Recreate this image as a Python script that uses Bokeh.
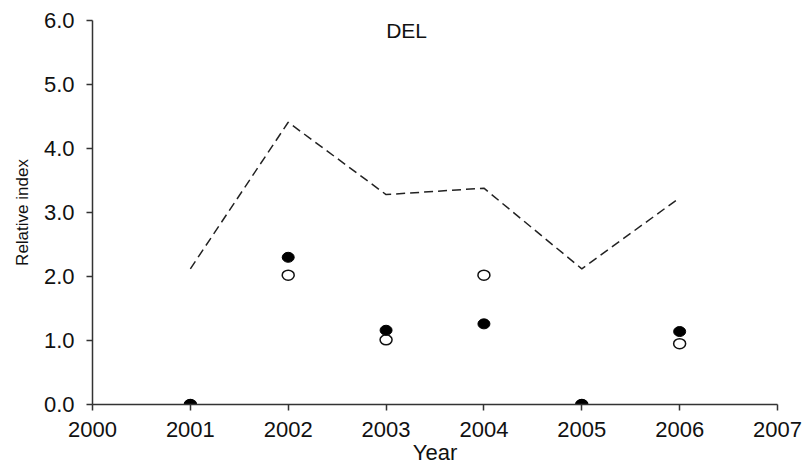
from bokeh.plotting import figure
from bokeh.models import Range1d, FixedTicker, PrintfTickFormatter
from bokeh.core.properties import value
from bokeh.embed import file_html
from bokeh.resources import INLINE

# ---- data ----
years = [2001, 2002, 2003, 2004, 2005, 2006]
dashed_index = [2.12, 4.41, 3.28, 3.38, 2.12, 3.23]
filled_index = [0.0, 2.30, 1.16, 1.26, 0.0, 1.14]
open_index = [0.0, 2.02, 1.01, 2.02, 0.0, 0.95]
x_ticks = [2000, 2001, 2002, 2003, 2004, 2005, 2006, 2007]
y_ticks = [0, 1, 2, 3, 4, 5, 6]
panel_title = "DEL"

FONT = "Liberation Sans"

p = figure(width=807, height=467, output_backend="svg", toolbar_location=None,
           x_range=Range1d(2000, 2007), y_range=Range1d(0, 6),
           min_border_left=92, min_border_right=30, min_border_top=20,
           min_border_bottom=63)
p.outline_line_color = None
p.grid.visible = False
p.background_fill_color = "white"
p.border_fill_color = "white"

for ax in (p.xaxis, p.yaxis):
    ax.axis_line_color = "#333333"
    ax.axis_line_width = 1.5
    ax.major_tick_line_color = "#333333"
    ax.major_tick_line_width = 1.5
    ax.major_tick_out = 6
    ax.major_tick_in = 0
    ax.minor_tick_line_color = None
    ax.major_label_text_font = FONT
    ax.major_label_text_color = "#111111"
    ax.axis_label_text_font = FONT
    ax.axis_label_text_font_style = "normal"
    ax.axis_label_text_color = "#111111"

p.xaxis.ticker = FixedTicker(ticks=x_ticks)
p.xaxis.formatter = PrintfTickFormatter(format="%d")
p.xaxis.major_label_text_font_size = "22px"
p.xaxis.major_label_standoff = 11
p.xaxis.axis_label = "Year"
p.xaxis.axis_label_text_font_size = "22px"
p.xaxis.axis_label_standoff = 0

p.yaxis.ticker = FixedTicker(ticks=y_ticks)
p.yaxis.formatter = PrintfTickFormatter(format="%.1f")
p.yaxis.major_label_text_font_size = "22px"
p.yaxis.major_label_standoff = 12
p.yaxis.axis_label = "Relative index"
p.yaxis.axis_label_text_font_size = "17px"
p.yaxis.axis_label_standoff = 9

# dashed line
p.line(years, dashed_index, line_color="#222222", line_width=1.5, line_dash="9 5")

# open circles (beneath)
p.ellipse(years, open_index, width=12, height=10, width_units="screen",
          height_units="screen", fill_color="white", line_color="#111111",
          line_width=1.5)
# filled circles
p.ellipse(years, filled_index, width=12, height=10, width_units="screen",
          height_units="screen", fill_color="black", line_color="black",
          line_width=1)

p.text(x=[2003.21], y=[5.84], text=[panel_title], text_font=value(FONT),
       text_font_size="21px", text_align="center", text_baseline="middle",
       text_color="#111111")

open("out.html", "w").write(file_html(p, INLINE))
